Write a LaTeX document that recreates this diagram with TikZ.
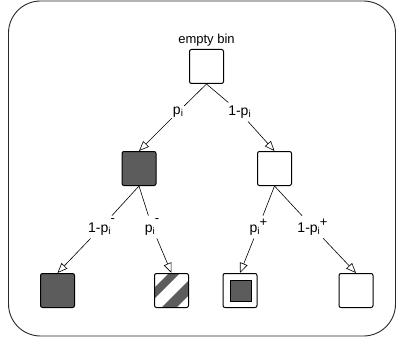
\documentclass[tikz,border=0pt]{standalone}
\usepackage{fontspec}
\setmainfont{Liberation Sans}
\usetikzlibrary{arrows.meta}
\definecolor{binfill}{RGB}{92,92,92}
\definecolor{framecol}{RGB}{40,40,40}
% raised sign after a subscript
\newcommand{\signup}[2]{\raisebox{#1}{\fontsize{13}{13}\selectfont #2}}
\newcommand{\idx}{\raisebox{-2.5pt}{\fontsize{10}{10}\selectfont i}}
\begin{document}
\begin{tikzpicture}[x=1pt,y=-1pt,
  bin/.style={draw, line width=1pt, rounded corners=2pt, minimum size=34pt, inner sep=0pt},
  full/.style={bin, fill=binfill},
  prob/.style={inner xsep=1pt, inner ysep=3pt, font=\fontsize{14}{16}\selectfont},
  link/.style={line width=0.6pt},
  flow/.style={link, -{Triangle[fill=white, length=10pt, width=8pt, line width=0.6pt]}}]
\path[use as bounding box] (0,0) rectangle (396,342);
\draw[framecol, line width=0.9pt, rounded corners=32pt] (8.5,1) rectangle (395.5,336);

% root and caption
\node[bin] (root) at (206.5,66.5) {};
\node[font=\fontsize{13}{15}\selectfont, inner sep=0pt] (caption) at (206.5,40.5) {empty bin};

% second level
\node[full] (mL) at (139,168.5) {};
\node[bin] (mR) at (274.5,168.5) {};

% third level: striped bin drawn under its frame
\begin{scope}[shift={(171.5,290.5)}]
  \clip[rounded corners=2pt] (-17,-17) rectangle (17,17);
  \fill[binfill] (-40,20) -- (20,-40) -- (31,-40) -- (-40,31) -- cycle;
  \fill[binfill] (-40,47) -- (47,-40) -- (62,-40) -- (-40,62) -- cycle;
\end{scope}
\node[full] (bA) at (57.5,290.5) {};
\node[bin] (bB) at (171.5,290.5) {};
\node[bin] (bC) at (240,290.5) {};
\node[draw, line width=1pt, fill=binfill, minimum size=21pt, inner sep=0pt] (core) at (240.5,290.8) {};
\node[bin] (bD) at (356,290.5) {};

% branch probabilities
\node[prob] (lpA) at (178,112) {p\idx};
\node[prob] (lpB) at (239.5,112) {1-p\idx};
\node[prob] (lpC) at (101.5,227) {1-p\idx\signup{9.5pt}{-}};
\node[prob] (lpD) at (152,227) {p\idx\signup{9.5pt}{-}};
\node[prob] (lpE) at (258.5,227) {p\idx\signup{6pt}{+}};
\node[prob] (lpF) at (312.5,227) {1-p\idx\signup{6pt}{+}};

% branches
\draw[link] (root.south) -- (lpA);
\draw[flow] (lpA) -- (mL.north);
\draw[link] (root.south) -- (lpB);
\draw[flow] (lpB) -- (mR.north);
\draw[link] (mL.south) -- (lpC);
\draw[flow] (lpC) -- (bA.north);
\draw[link] (mL.south) -- (lpD);
\draw[flow] (lpD) -- (bB.north);
\draw[link] (mR.south) -- (lpE);
\draw[flow] (lpE) -- (bC.north);
\draw[link] (mR.south) -- (lpF);
\draw[flow] (lpF) -- (bD.north);
\end{tikzpicture}
\end{document}
